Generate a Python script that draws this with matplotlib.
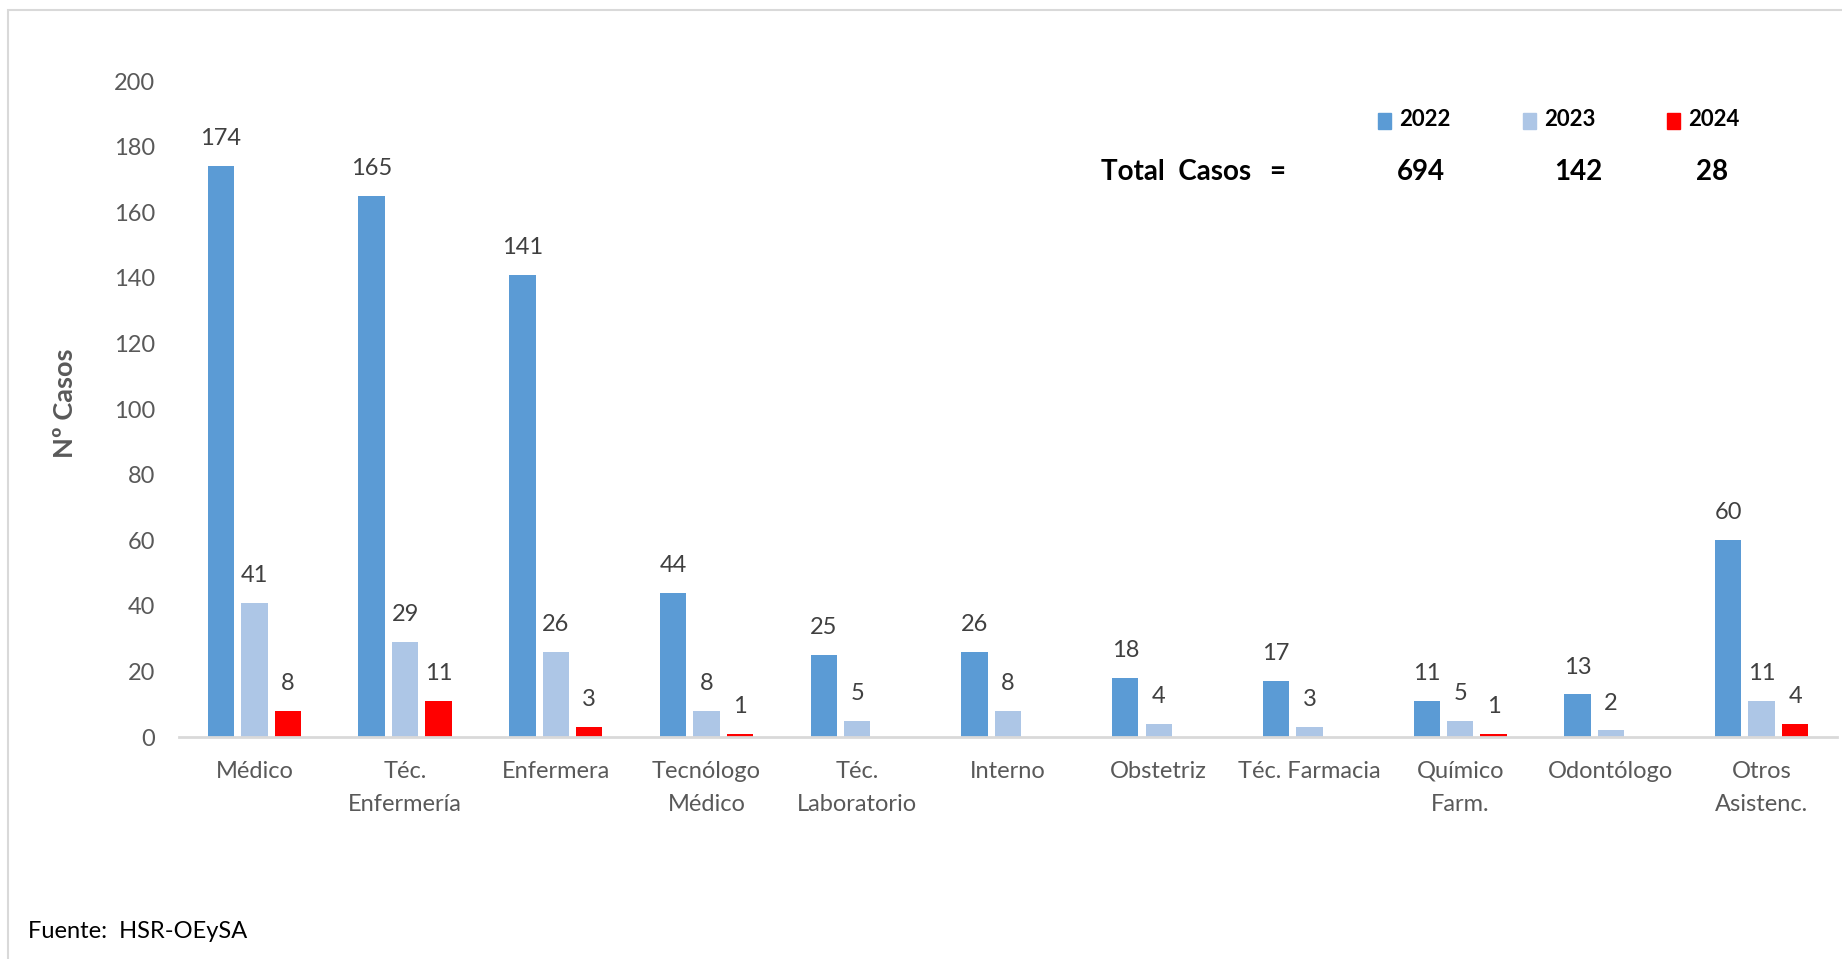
import numpy as np
import matplotlib
matplotlib.use("Agg")
import matplotlib.pyplot as plt
from matplotlib.patches import Rectangle

plt.rcParams['font.family'] = ['Lato', 'DejaVu Sans']

categories = ['Médico', 'Téc.\nEnfermería', 'Enfermera', 'Tecnólogo\nMédico',
              'Téc.\nLaboratorio', 'Interno', 'Obstetriz', 'Téc. Farmacia',
              'Químico\nFarm.', 'Odontólogo', 'Otros\nAsistenc.']
years = ['2022', '2023', '2024']
casos_2022 = [174, 165, 141, 44, 25, 26, 18, 17, 11, 13, 60]
casos_2023 = [41, 29, 26, 8, 5, 8, 4, 3, 5, 2, 11]
casos_2024 = [8, 11, 3, 1, 0, 0, 0, 0, 1, 0, 4]
colors = ['#5B9BD5', '#ADC6E6', '#FF0000']

W, H = 1842, 959
fig = plt.figure(figsize=(W / 100, H / 100), dpi=100)

# light frame around the chart area
fig.add_artist(Rectangle((8 / W, -0.1), 1.2, 1 - 10 / H + 0.1, transform=fig.transFigure,
                         fill=False, edgecolor='#D9D9D9', linewidth=1.5))

ax = fig.add_axes([179 / W, 1 - 737 / H, (1837 - 179) / W, (737 - 81) / H])
x = np.arange(len(categories))
offset = 0.222
width = 0.175
series = [casos_2022, casos_2023, casos_2024]
for i, (vals, c) in enumerate(zip(series, colors)):
    xs = x + (i - 1) * offset
    ax.bar(xs, vals, width=width, color=c, zorder=2)
    for xi, v in zip(xs, vals):
        if v > 0:
            ax.annotate(str(v), (xi, v), xytext=(0, 15), textcoords='offset points',
                        ha='center', va='baseline', fontsize=17, color='#404040')

ax.set_xlim(-0.5, len(categories) - 0.5)
ax.set_ylim(0, 200)
ax.set_yticks(range(0, 201, 20))
ax.set_xticks(x)
ax.set_xticklabels(categories, linespacing=1.75)
ax.tick_params(axis='both', length=0, labelsize=17, labelcolor='#595959')
ax.tick_params(axis='y', pad=17)
ax.tick_params(axis='x', pad=17)
for s in ['top', 'right', 'left']:
    ax.spines[s].set_visible(False)
ax.spines['bottom'].set_color('#D9D9D9')
ax.spines['bottom'].set_linewidth(2)
ax.spines['bottom'].set_zorder(3)

fig.text(65 / W, 1 - 403 / H, 'Nº Casos', rotation=90, ha='center', va='center',
         fontsize=19.5, fontweight='bold', color='#595959')

# legend with totals
marker_x = [1378, 1523, 1667]
total_x = [1421, 1578, 1712]
for mx, tx, yr, c, vals in zip(marker_x, total_x, years, colors, series):
    fig.add_artist(Rectangle((mx / W, 1 - 129 / H), 13 / W, 16 / H,
                             transform=fig.transFigure, color=c))
    fig.text((mx + 21) / W, 1 - 126 / H, yr, ha='left', va='baseline',
             fontsize=16, fontweight='bold', color='black')
    fig.text(tx / W, 1 - 180 / H, str(sum(vals)), ha='center', va='baseline',
             fontsize=20, fontweight='bold', color='black')
fig.text(1101 / W, 1 - 180 / H, 'Total  Casos', ha='left', va='baseline',
         fontsize=20, fontweight='bold', color='black')
fig.text(1277 / W, 1 - 180 / H, '=', ha='center', va='baseline',
         fontsize=20, fontweight='bold', color='black')

fig.text(28 / W, 1 - 932 / H, 'Fuente:  HSR-OEySA', ha='left', va='center',
         fontsize=17, color='black')

fig.savefig('out.png', dpi=100)
